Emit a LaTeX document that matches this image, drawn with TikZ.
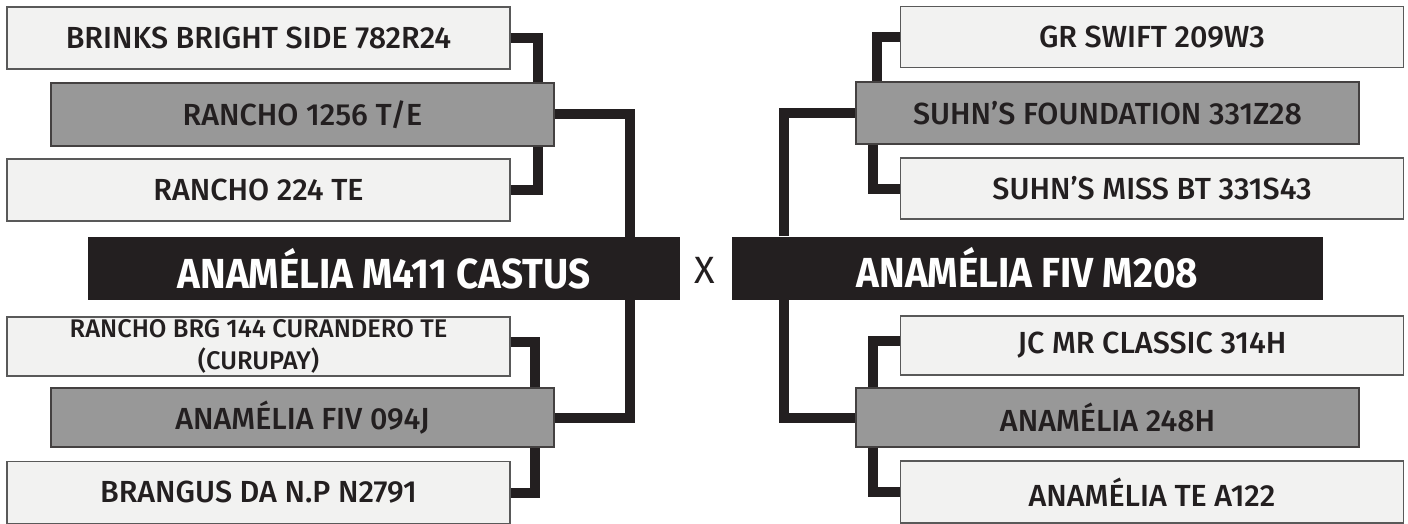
\documentclass[tikz,border=0pt]{standalone}
\usepackage{fontspec}
\setmainfont{Fira Sans}[UprightFont=* Medium, BoldFont=* Bold]
\newfontfamily\destaque{Fira Sans}[UprightFont=* Bold, FakeStretch=0.92]
\newfontfamily\fino{Fira Sans}
\definecolor{quasepreto}{HTML}{231F20}
\definecolor{claro}{HTML}{F2F2F1}
\definecolor{cinza}{HTML}{989898}
\tikzset{
  avo/.style={draw=black!65, line width=1.2pt, fill=claro, text=quasepreto,
    minimum width=503pt, minimum height=62pt, inner sep=0pt,
    font=\fontsize{30.5}{32}\selectfont},
  pai/.style={avo, draw=quasepreto!85, fill=cinza},
  animal/.style={fill=quasepreto, text=white, minimum height=63pt, inner sep=0pt,
    font=\fontsize{42}{46}\destaque},
  liga/.style={draw=quasepreto, line width=10pt, line join=miter}
}
\begin{document}
\begin{tikzpicture}[x=1pt, y=-1pt]
  \useasboundingbox (0,0) rectangle (1408,524);
  % Os dois animais do acasalamento
  \node[animal, minimum width=592pt] (touro) at (384,268.5) {ANAMÉLIA M411 CASTUS};
  \node[animal, minimum width=591pt] (vaca) at (1027.5,268) {ANAMÉLIA FIV M208};
  \node[text=quasepreto, font=\fontsize{38}{44}\fino] (vezes) at (705,270) {X};
  % Genealogia do touro (lado esquerdo)
  \node[avo] (t1) at (258.5,38) {BRINKS BRIGHT SIDE 782R24};
  \node[pai, minimum height=63pt] (t2) at (302.5,114.5) {RANCHO 1256 T/E};
  \node[avo] (t3) at (258.5,190) {RANCHO 224 TE};
  \node[avo, minimum height=59pt, align=center, font=\fontsize{25.5}{32}\selectfont] (t4) at (258.5,346.5) {RANCHO BRG 144 CURANDERO TE\\(CURUPAY)};
  \node[pai, minimum height=59pt] (t5) at (302.5,417.5) {ANAMÉLIA FIV 094J};
  \node[avo] (t6) at (258.5,492.5) {BRANGUS DA N.P N2791};
  % Genealogia da vaca (lado direito)
  \node[avo, minimum height=61pt] (v1) at (1152,37) {GR SWIFT 209W3};
  \node[pai] (v2) at (1107.5,113) {SUHN’S FOUNDATION 331Z28};
  \node[avo, minimum height=61pt] (v3) at (1152,188.5) {SUHN’S MISS BT 331S43};
  \node[avo, minimum height=59pt] (v4) at (1152,345.5) {JC MR CLASSIC 314H};
  \node[pai, minimum height=59pt] (v5) at (1107.5,417.5) {ANAMÉLIA 248H};
  \node[avo] (v6) at (1152,492) {ANAMÉLIA TE A122};
  % Ligacoes
  \draw[liga] (t1.east) -| ([xshift=-17pt]t2.north east);
  \draw[liga] ([xshift=-17pt]t2.south east) |- (t3.east);
  \draw[liga] (t2.east) -| ([xshift=-50pt]touro.north east);
  \draw[liga] ([xshift=-50pt]touro.south east) |- (t5.east);
  \draw[liga] ([yshift=5pt]t4.east) -| ([xshift=-20pt]t5.north east);
  \draw[liga] ([xshift=-20pt]t5.south east) |- (t6.east);
  \draw[liga] (v1.west) -| ([xshift=22pt]v2.north west);
  \draw[liga] ([xshift=18pt]v2.south west) |- (v3.west);
  \draw[liga] ([xshift=52pt]vaca.north west) |- (v2.west);
  \draw[liga] ([xshift=52pt]vaca.south west) |- (v5.west);
  \draw[liga] ([yshift=5pt]v4.west) -| ([xshift=18pt]v5.north west);
  \draw[liga] ([xshift=18pt]v5.south west) |- (v6.west);
\end{tikzpicture}
\end{document}
